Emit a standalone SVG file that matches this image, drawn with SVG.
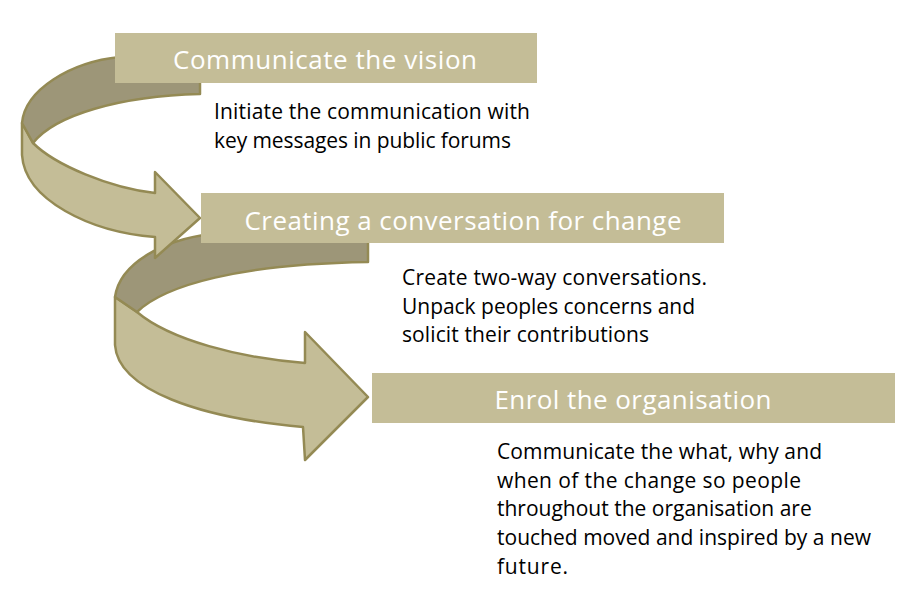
<svg xmlns="http://www.w3.org/2000/svg" width="921" height="607" viewBox="0 0 921 607">
<style>
.light{fill:#c4bd97;stroke:#948a54;stroke-width:2.5;stroke-linejoin:round}
.dark{fill:#9d9678;stroke:#948a54;stroke-width:2.5;stroke-linejoin:round}
.box{fill:#c4bd97}
.title{font-family:"Open Sans","Liberation Sans",sans-serif;font-size:26px;fill:#ffffff;text-anchor:middle}
.body{font-family:"Open Sans","Liberation Sans",sans-serif;font-size:21px;fill:#000000}
</style>
<rect width="921" height="607" fill="#ffffff"/>
<g id="connectors">
  <g id="arrow2">
    <path class="light" d="M137,312 C170,340 240,358 305,363 L305,332 L368,397 L305,460 L303,427 C200,418 118,390 115,345 L115,297 Z"/>
    <path class="dark" d="M368,225 L210,234 C165,240 120,262 115,297 L137,312 C165,285 240,264 368,262 Z"/>
  </g>
  <g id="arrow1">
    <path class="light" d="M33,143 C55,165 110,188 155,193 L155,172 L200,218 L155,258 L155,237 C90,232 25,200 22,155 L22,123 Z"/>
    <path class="dark" d="M200,55 L120,57 C70,62 25,90 22,123 L33,143 C55,115 120,96 200,94 Z"/>
  </g>
</g>
<g id="node1">
  <rect class="box" x="115" y="33" width="422" height="50"/>
  <text class="title" x="325" y="69" textLength="304" lengthAdjust="spacing">Communicate the vision</text>
  <text class="body"><tspan x="214" y="119" textLength="316" lengthAdjust="spacing">Initiate the communication with</tspan><tspan x="214" y="148" textLength="297" lengthAdjust="spacing">key messages in public forums</tspan></text>
</g>
<g id="node2">
  <rect class="box" x="201" y="193" width="523" height="50"/>
  <text class="title" x="463" y="230" textLength="437" lengthAdjust="spacing">Creating a conversation for change</text>
  <text class="body"><tspan x="402" y="285" textLength="305" lengthAdjust="spacing">Create two-way conversations.</tspan><tspan x="402" y="314" textLength="293" lengthAdjust="spacing">Unpack peoples concerns and</tspan><tspan x="402" y="342" textLength="247" lengthAdjust="spacing">solicit their contributions</tspan></text>
</g>
<g id="node3">
  <rect class="box" x="372" y="373" width="523" height="50"/>
  <text class="title" x="633" y="409" textLength="277" lengthAdjust="spacing">Enrol the organisation</text>
  <text class="body"><tspan x="497" y="459" textLength="325" lengthAdjust="spacing">Communicate the what, why and</tspan><tspan x="497" y="488" textLength="304" lengthAdjust="spacing">when of the change so people</tspan><tspan x="497" y="516">throughout the organisation are</tspan><tspan x="497" y="545" textLength="374" lengthAdjust="spacing">touched moved and inspired by a new</tspan><tspan x="497" y="574" textLength="71" lengthAdjust="spacing">future.</tspan></text>
</g>
</svg>
